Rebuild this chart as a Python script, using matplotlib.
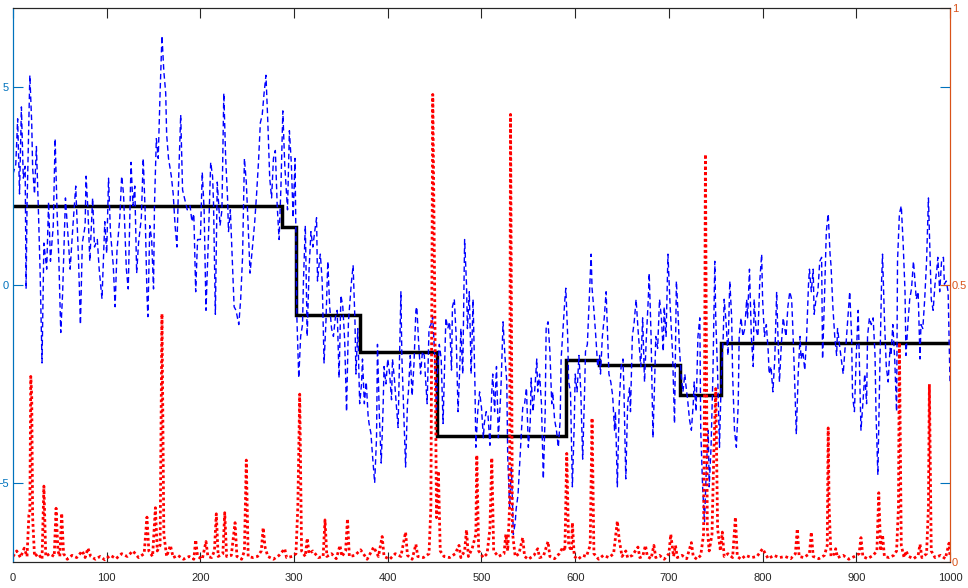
import matplotlib.pyplot as plt

plt.rcParams['font.family'] = ['Liberation Sans', 'DejaVu Sans']

blue_x = [0, 3, 5, 7, 9, 11, 13, 14, 15, 18, 20, 21, 23, 25, 27, 29, 31, 33, 36, 38,
          40, 43, 45, 47, 49, 51, 53, 56, 59, 61, 64, 67, 70, 72, 74, 77, 78, 80, 82, 85,
          87, 90, 92, 95, 98, 100, 102, 104, 107, 109, 111, 114, 116, 118, 121, 123, 126, 128, 130, 132,
          134, 137, 139, 141, 143, 144, 146, 148, 150, 151, 153, 155, 157, 159,
          161, 163, 164, 166, 169, 171, 173, 175, 177, 179, 181, 183, 186, 189, 191, 193, 195, 197, 200, 202,
          204, 206, 209, 211, 213, 214, 216, 218, 221, 223, 225, 227, 229, 230, 232, 234, 236, 238, 241, 243,
          245, 247, 249, 251, 253, 256, 258, 260, 262, 264, 266, 268, 270, 272, 274, 276, 278, 280, 282, 284,
          286, 288, 290, 293, 295, 297, 299, 301, 303, 305, 307, 309, 310, 312, 314, 316, 318, 320, 322, 324,
          325, 327, 328, 330, 332, 334, 336,
          338, 340, 342, 344, 346, 348, 350, 352, 354, 356, 358, 361, 363, 365, 366, 368, 370, 372, 373, 375,
          377, 379, 380, 382, 384, 386, 388, 389, 391, 393, 395, 396, 398, 400, 402, 404, 405, 407, 409, 411,
          413, 414, 415, 417, 419, 421, 422, 424, 426, 428, 430, 431, 433, 435, 437, 439, 440, 442, 444, 446,
          448, 450, 452, 453, 455, 457, 459, 461, 462, 464, 466, 468, 469, 471, 473, 475, 477, 478, 480, 482,
          484, 485, 487, 489, 491, 493, 494, 496, 498, 500, 502, 503, 505, 507, 509, 511, 512, 514, 516, 518,
          520, 521, 523, 525, 527, 528, 530, 532, 534, 536, 537, 539, 541, 543, 544, 546, 548, 550, 552, 553,
          555, 557, 559, 560, 562, 564, 566, 568, 569, 571, 573, 575, 576, 578, 580, 582, 584, 585, 587, 589,
          590, 592, 593, 595, 597, 599, 600, 602, 604, 606, 608, 610, 611, 613, 615, 617, 618, 620, 622, 624,
          626, 627, 629, 631, 633, 635, 636, 638, 640, 642, 643, 645, 647, 649, 651, 652, 654, 656, 658, 659,
          661, 663, 665, 667,
          670, 672, 674, 676, 678, 679, 681, 683, 685, 686, 688, 690, 692, 694, 695, 697, 699, 701, 702, 704,
          706, 708, 710, 711, 713, 715, 717, 718, 720, 722, 724, 726, 727, 729, 731, 733, 734, 736, 738, 740,
          742, 743, 745, 747, 749, 750, 752, 754, 756, 758, 759, 761, 763, 765, 767, 768, 770, 772, 774, 775,
          777, 779, 781, 783, 784, 786, 788, 790, 791, 793, 795, 797, 799, 800, 802, 804, 806, 807, 809, 811,
          813, 815, 816, 818, 820, 822, 823, 825, 827, 829, 831, 832, 834, 836, 838, 840, 841, 843, 845, 847,
          849,
          850, 852, 854, 855, 857, 859, 861, 863, 864, 866, 868, 870, 872, 873, 875, 877, 879, 880, 882, 884,
          886, 888, 889, 891, 893, 895, 896, 898, 900, 902, 904, 905, 907, 909, 911, 912, 914, 916, 918, 920,
          921, 923, 925, 927, 928, 930, 932, 934, 936, 937, 939, 941, 943, 944, 946, 948, 950, 952, 953, 955,
          957, 959, 961, 962, 964, 966, 968, 969, 971, 973, 975, 977, 978, 980, 982, 984, 986, 987, 989, 991,
          993, 994, 996, 998, 1000]
blue_y = [2.8, 3.05, 4.2, 2.3, 4.5, 2.7, 3.0, -0.1, 2.0, 5.3, 4.1, 2.95, 2.3, 3.5, 2.0, 0.3, -1.97, 1.06, 0.4, 2.1,
          0.6, 1.5, 3.7, 1.9, 0.6, -1.2, -0.2, 2.2, 1.15, 0.4, 1.5, 2.5, 0.6, -1.0, 1.06, 1.5, 2.75, 1.9, 0.6, 2.2,
          0.96, 1.15, 0.4, -0.35, 1.6, 0.8, 2.7, 1.35, 0.5, -0.55, 0.87, 1.7, 2.75, 2.3, 0.4, -0.1, 3.1, 2.0, 2.5, 0.3,
          1.06, 1.7, 3.2, 1.9, -0.26, -0.8, 1.5, 1.15, -0.1, 2.0, 3.7, 3.2, 4.85, 6.3,
          5.4, 4.85, 3.8, 3.2, 2.75, 2.3, 1.5, 0.96, 2.85, 4.3, 2.4, 2.2, 1.9, 2.0, 1.6, 1.8, -0.17, 1.15, 1.15, 2.85,
          1.9, -0.64, 1.5, 3.1, 2.75, 2.1, -0.74, 2.6, 1.5, 1.9, 4.85, 3.2, 2.2, 1.35, 1.9, 0.7, -0.55, -0.64, -1.0, -0.36,
          0.7, 3.2, 2.6, 1.5, 0.3, 1.06, 1.6, 2.3, 3.1, 4.1, 4.3, 4.85, 5.3, 4.1, 2.7, 2.2, 3.2, 3.4, 2.0, 1.15,
          2.5, 4.4, 3.05, 1.9, 3.9, 3.1, 1.7, 3.2, -0.83, -2.35, -1.3, -1.0, 0.1, 1.5, -1.3, 0.4, 1.35, 0.96, 1.35, 1.7,
          0.1, 0.6, 0.78, 0.1, -1.97, -0.93, 0.6,
          -0.55, -1.1, -1.3, -0.83, -0.64, -2.35, -0.26, -0.55, -1.4, -3.2, -0.93, 0.02, 0.5, -0.93, -2.25, -1.1, -3.0, -2.5, -1.87, -3.0,
          -2.45, -3.3, -3.5, -3.75, -4.4, -5.0, -3.86, -1.5, -3.3, -4.5, -3.1, -2.06, -2.5, -1.87, -2.25, -2.9, -1.87, -2.35, -3.0, -3.6,
          -1.3, -0.17, -1.78, -3.2, -4.6, -3.0, -2.7, -1.78, -2.8, -1.97, -0.64, -0.55, -1.5, -2.25, -1.68, -1.78, -2.25, -3.0, -1.1, -1.0,
          -0.8, -1.78, -3.2, -2.25, -1.5, -1.87, -3.5, -1.78, -0.83, -1.1, -0.93, -2.15, -0.55, -0.36, -1.3, -3.2, -1.97, -1.1, -2.25, 1.15,
          0.02, -1.1, -0.17, -2.25, -0.36, -2.5, -4.1, -3.2, -2.7, -3.1, -3.86, -3.5, -3.2, -3.3, -4.05, -2.7, -2.25, -3.2, -2.06, -3.86,
          -3.0, -2.45, -0.93, -1.78, -2.45, -4.35, -5.6, -4.6, -6.3, -6.0, -5.66, -5.3, -4.4, -3.5, -3.1, -3.0, -2.6, -4.1, -3.5, -2.35,
          -3.2, -2.6, -1.87, -2.7, -2.25, -3.0, -4.9, -3.2, -1.1, -0.93, -1.68, -3.0, -2.7, -3.4, -3.67, -4.1, -3.4, -1.87, -1.1, -0.36,
          -0.08, -1.3, -2.45, -2.7, -5.1, -3.5, -2.25, -2.7, -1.78, -2.7, -4.4, -2.7, -1.68, -1.5, -0.36, 0.78, -0.08, -0.64, -1.3, -2.06,
          -1.78, -2.25, -1.3, -0.83, -0.17, -1.6, -2.25, -2.45, -2.8, -3.67, -3.2, -5.1, -3.0, -2.06, -1.87, -2.6, -4.9, -3.0, -2.6, -3.2,
          -1.3, -0.93, -0.36, -1.1,
          -2.06, -0.83, -2.45, -1.3, -0.36, 0.3, -1.3, -3.86, -2.25, -1.3, -1.6, -0.36, -0.83, -1.68, -0.55, -1.3, 0.78, -0.36, -0.83, -1.78,
          -3.5, 0.1, -0.83, -1.5, -2.25, -2.7, -2.25, -2.5, -2.9, -3.4, -3.67, -3.0, -2.45, -3.2, -1.3, -0.83, -3.67, -5.1, -6.0, -4.6,
          -3.67, -5.1, -4.1, -2.25, 0.6, -0.83, -2.25, -4.1, -2.25, -1.3, -0.36, -0.93, -1.78, 0.1, -0.83, -2.25, -3.67, -4.1, -3.0, -1.3,
          -0.83, -1.3, -1.1, -0.36, -0.83, 0.4, -1.3, -2.06, -0.36, -1.1, -1.3, 0.1, 0.78, -0.36, -1.3, -1.0, -1.68, -2.25, -2.06, -2.7,
          -1.87, -0.17, -1.0, -2.45, -1.5, -0.83, -1.0, -1.3, -0.55, -0.17, -0.36, -0.93, -2.25, -3.77, -2.25, -1.3, -1.87, -1.68, -2.15, -1.3,
          0.02,
          0.4, -0.17, 0.4, -0.74, -0.36, -0.17, 0.6, 0.7, -1.87, -0.36, 1.35, 1.8, 0.78, 0.5, -0.55, -1.3, -1.78, -1.1, -1.5, -1.87,
          -2.25, -1.6, -1.5, -0.83, -0.17, -1.3, -2.8, -3.2, -1.78, -0.64, -2.7, -3.67, -3.0, -2.25, -3.0, -1.3, -0.83, -1.0, -0.83, -1.78,
          -3.2, -4.8, -2.25, 0.1, 0.78, -0.83, -2.06, -2.45, -1.6, -1.78, -1.0, -1.87, -3.2, 0.6, 1.8, 2.0, 1.06, -0.17, -1.78, -1.0,
          -0.36, -0.08, 0.6, 0.3, -0.36, -0.17, -1.87, -1.0, -1.1, -0.36, 0.6, 2.2, 1.35, -0.36, -0.64, 0.02, 0.4, 0.7, -0.17, 0.6,
          0.7, 0.02, 0.1, -0.17, -2.45]

# piecewise-constant fit (segment edges and levels)
step_edges = [0, 287, 302, 370, 452, 590, 625, 712, 756, 1000]
step_levels = [2.0, 1.47, -0.77, -1.70, -3.81, -1.89, -2.03, -2.79, -1.47]

# change-point score (right axis)
red_x = [0, 4, 8, 12, 15, 17, 18, 19, 20, 21, 23, 27, 31, 33, 35, 39, 44, 46, 48, 50,
         52, 54, 58, 63, 68, 74, 77, 80, 83, 88, 93, 98, 104, 110, 116, 122, 128, 134, 140, 143,
         145, 149, 152, 154, 157, 159, 161, 164, 168, 171, 176, 182, 188, 193, 195, 197, 202, 206, 208, 212,
         215, 217, 219, 224, 226, 228, 233, 237, 239, 244, 247, 249, 251, 256, 261, 265, 267, 269, 272, 278,
         284, 290, 292, 298, 302, 304, 306, 308, 312, 314, 316, 320, 326, 331, 333, 335, 340, 345, 349, 351,
         355, 357, 359, 365, 371, 378, 385, 390, 394, 396, 402, 408, 414, 419, 421, 426, 430, 432, 438, 444,
         446, 448, 450, 452, 454, 456, 460, 466, 472, 476, 478, 482, 484, 486, 490, 494, 495, 497, 502, 506,
         509, 511, 513, 518, 524, 526, 528, 530, 531, 533, 536, 540, 544, 546, 550, 556, 560, 562, 566, 571,
         573, 578, 583, 587, 589, 591, 593, 596, 597, 599, 603, 608, 612, 616, 618, 620, 625, 630, 636, 641,
         645, 647, 650, 654, 656, 661, 667, 669, 672, 675, 677, 681, 684, 686, 690, 695, 700, 702, 705, 707,
         709, 714, 719, 724, 726, 730, 734, 737, 738, 739, 740, 741, 743, 746, 748, 750, 752, 755, 757, 759,
         763, 768, 771, 773, 777, 782, 788, 794, 800, 806, 812, 818, 824, 830, 835, 837, 839, 844, 850, 852,
         854, 860, 866, 869, 870, 871, 873, 877, 878, 880, 886, 892, 898, 903, 905, 907, 912, 918, 922, 924,
         926, 928, 930, 935, 940, 943, 945, 946, 948, 951, 953, 956, 961, 966, 968, 970, 975, 977, 978, 980,
         984, 990, 995, 999, 1000]
red_y = [0.01, 0.02, 0.008, 0.025, 0.01, 0.085, 0.09, 0.335, 0.3, 0.08, 0.01, 0.015, 0.005, 0.137, 0.01, 0.015, 0.01, 0.097, 0.02, 0.01,
         0.088, 0.015, 0.005, 0.012, 0.008, 0.02, 0.008, 0.025, 0.01, 0.005, 0.01, 0.004, 0.012, 0.006, 0.015, 0.01, 0.02, 0.008, 0.015, 0.081,
         0.02, 0.01, 0.098, 0.02, 0.03, 0.448, 0.05, 0.01, 0.03, 0.008, 0.012, 0.005, 0.01, 0.005, 0.04, 0.01, 0.005, 0.037, 0.01, 0.008,
         0.02, 0.087, 0.01, 0.015, 0.089, 0.01, 0.012, 0.071, 0.01, 0.005, 0.02, 0.184, 0.01, 0.008, 0.01, 0.02, 0.062, 0.027, 0.01, 0.005,
         0.012, 0.024, 0.008, 0.01, 0.015, 0.1, 0.303, 0.02, 0.01, 0.043, 0.015, 0.02, 0.008, 0.01, 0.076, 0.01, 0.015, 0.006, 0.03, 0.01,
         0.02, 0.078, 0.01, 0.012, 0.022, 0.005, 0.027, 0.01, 0.046, 0.01, 0.005, 0.015, 0.01, 0.054, 0.012, 0.005, 0.032, 0.01, 0.008, 0.015,
         0.1, 0.844, 0.5, 0.08, 0.164, 0.02, 0.01, 0.008, 0.015, 0.03, 0.008, 0.02, 0.058, 0.01, 0.024, 0.05, 0.193, 0.02, 0.008, 0.015,
         0.06, 0.188, 0.02, 0.01, 0.015, 0.05, 0.02, 0.1, 0.808, 0.054, 0.01, 0.015, 0.044, 0.01, 0.005, 0.012, 0.024, 0.008, 0.01, 0.037,
         0.01, 0.006, 0.015, 0.027, 0.02, 0.196, 0.03, 0.02, 0.071, 0.01, 0.005, 0.012, 0.01, 0.03, 0.26, 0.015, 0.005, 0.012, 0.008, 0.015,
         0.074, 0.04, 0.01, 0.02, 0.008, 0.012, 0.027, 0.008, 0.01, 0.03, 0.01, 0.006, 0.03, 0.008, 0.012, 0.005, 0.015, 0.05, 0.01, 0.03,
         0.008, 0.012, 0.006, 0.035, 0.01, 0.005, 0.012, 0.05, 0.3, 0.736, 0.4, 0.06, 0.02, 0.05, 0.2, 0.313, 0.06, 0.02, 0.054, 0.01,
         0.015, 0.008, 0.081, 0.01, 0.005, 0.012, 0.008, 0.01, 0.024, 0.006, 0.012, 0.008, 0.01, 0.006, 0.015, 0.06, 0.01, 0.008, 0.015, 0.054,
         0.01, 0.006, 0.012, 0.03, 0.242, 0.1, 0.01, 0.015, 0.024, 0.008, 0.012, 0.005, 0.01, 0.015, 0.044, 0.01, 0.006, 0.012, 0.02, 0.125,
         0.02, 0.049, 0.01, 0.008, 0.012, 0.02, 0.1, 0.396, 0.03, 0.008, 0.02, 0.01, 0.006, 0.012, 0.032, 0.008, 0.015, 0.1, 0.321, 0.02,
         0.008, 0.012, 0.006, 0.034, 0.01]

x_ticks = [0, 100, 200, 300, 400, 500, 600, 700, 800, 900, 1000]
left_ticks = [-5, 0, 5]
right_ticks = [0, 0.5, 1]
right_labels = ['0', '0.5', '1']

BLUE_AX = '#0072BD'
ORANGE_AX = '#D95319'
GREY_AX = '#262626'

fig = plt.figure(figsize=(9.68, 5.88), dpi=100)
ax = fig.add_axes([0.0134, 0.0442, 0.968, 0.9422])

ax.plot(blue_x, blue_y, color='b', linestyle='--', dashes=(4, 2.5), linewidth=1.0)
ax.stairs(step_levels, step_edges, color='k', linewidth=2.5, baseline=None)
ax.set_xlim(0, 1000)
ax.set_ylim(-7, 7)
ax.set_xticks(x_ticks)
ax.set_yticks(left_ticks)

ax2 = ax.twinx()
ax2.plot(red_x, red_y, color='r', linestyle=(0, (1, 1)), linewidth=2.0)
ax2.set_ylim(0, 1)
ax2.set_yticks(right_ticks)
ax2.set_yticklabels(right_labels)

# tick styling (inward, MATLAB-like)
ax.tick_params(axis='x', direction='in', length=7, width=0.8, top=True, colors=GREY_AX,
               labelsize=8, pad=8)
ax.tick_params(axis='y', direction='in', length=7, width=0.8, left=True, right=True,
               labelright=False, colors=BLUE_AX, labelsize=8, pad=3)
ax2.tick_params(axis='y', direction='in', length=7, width=0.8, colors=ORANGE_AX,
                labelsize=8, pad=1.5)

for a in (ax, ax2):
    a.spines['top'].set_color(GREY_AX)
    a.spines['bottom'].set_color(GREY_AX)
    a.spines['left'].set_color(BLUE_AX)
    a.spines['right'].set_color(ORANGE_AX)
    for s in a.spines.values():
        s.set_linewidth(0.8)

fig.savefig('out.png', dpi=100)
